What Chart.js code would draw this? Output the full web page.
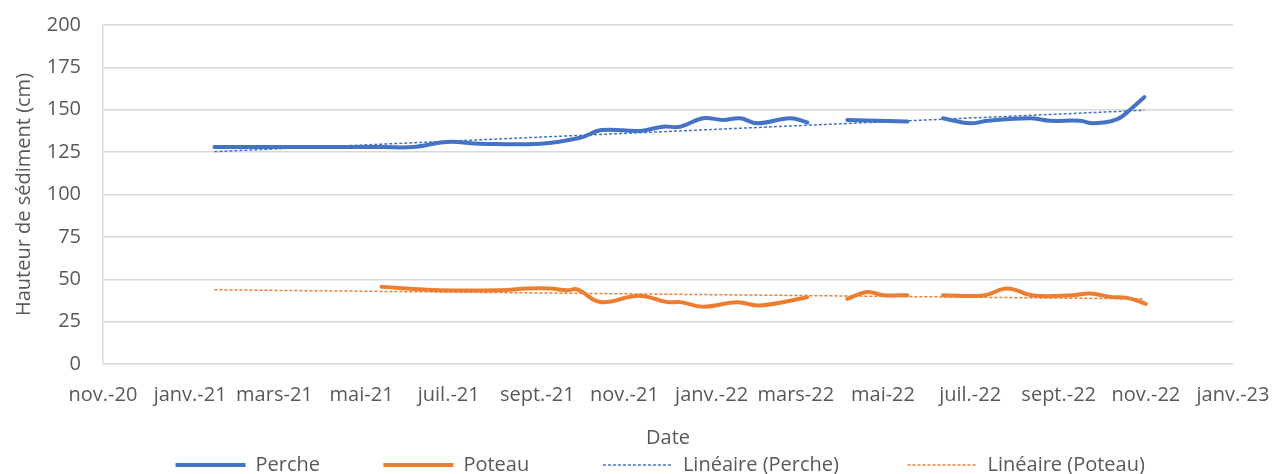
<!DOCTYPE html>
<html lang="fr">
<head>
<meta charset="UTF-8">
<title>Hauteur de sédiment</title>
<script src="https://cdn.jsdelivr.net/npm/chart.js"></script>
<style>
  html, body { margin: 0; padding: 0; background: #fff; }
  #wrap { width: 1274px; height: 474px; }
</style>
</head>
<body>
<div id="wrap"><canvas id="chart" width="1274" height="474"></canvas></div>
<script>
// x axis ticks (every 2 months)
const tickDates = ['2020-11-01','2021-01-01','2021-03-01','2021-05-01','2021-07-01','2021-09-01','2021-11-01',
  '2022-01-01','2022-03-01','2022-05-01','2022-07-01','2022-09-01','2022-11-01','2023-01-01'];
const tickLabels = ['nov.-20','janv.-21','mars-21','mai-21','juil.-21','sept.-21','nov.-21',
  'janv.-22','mars-22','mai-22','juil.-22','sept.-22','nov.-22','janv.-23'];

// Perche
const percheDates = ['2021-01-18','2021-02-15','2021-03-15','2021-04-15','2021-05-15','2021-06-06','2021-06-30',
  '2021-07-23','2021-09-03','2021-10-01','2021-10-16','2021-11-12','2021-11-28','2021-12-10','2021-12-26',
  '2022-01-09','2022-01-21','2022-02-02','2022-02-25','2022-03-09','2022-03-23','2022-04-06','2022-05-18',
  '2022-05-30','2022-06-12','2022-07-01','2022-07-13','2022-08-12','2022-08-26','2022-09-16','2022-09-25',
  '2022-10-12','2022-10-23','2022-10-31'];
const percheValues = [128, 128, 128, 128, 128, 128, 131,
  130, 130, 133.5, 138, 137.5, 140, 140, 145,
  144, 145, 142, 145, 142.5, null, 144, 143,
  null, 145, 142, 143.5, 145, 143.5, 143.5, 142,
  144.5, 151.5, 157.5];

// Poteau
const poteauDates = ['2021-05-15','2021-06-25','2021-08-06','2021-08-25','2021-09-10','2021-09-22','2021-09-29',
  '2021-10-15','2021-11-07','2021-11-15','2021-12-01','2021-12-10','2021-12-26','2022-01-19','2022-02-04',
  '2022-03-09','2022-03-23','2022-04-06','2022-04-20','2022-05-01','2022-05-18','2022-05-30','2022-06-12',
  '2022-07-10','2022-07-27','2022-08-14','2022-09-11','2022-09-23','2022-10-07','2022-10-19','2022-11-01'];
const poteauValues = [45.5, 43.5, 43.5, 44.5, 44.5, 43.5, 44,
  36.6, 40, 40, 36.5, 36.5, 33.8, 36.4, 34.5,
  39.4, null, 38.4, 42.5, 40.6, 40.6, null, 40.6,
  40.4, 44.5, 40.4, 40.6, 41.6, 39.6, 39, 35.5];

// linear trend lines (end points)
const trendDates = ['2021-01-18','2022-10-31'];
const trendPerche = [125.3, 149.7];
const trendPoteau = [43.8, 38.4];

const DAY = 86400000;
const origin = Date.UTC(2020, 10, 1);
function dayOf(s) {
  const p = s.split('-').map(Number);
  return (Date.UTC(p[0], p[1] - 1, p[2]) - origin) / DAY;
}
function pts(dates, vals) {
  return dates.map((d, i) => ({ x: dayOf(d), y: vals[i] }));
}

const BLUE = '#4472C4';
const ORANGE = '#ED7D31';

Chart.defaults.font.family = "'Open Sans', sans-serif";
Chart.defaults.font.size = 20;
Chart.defaults.color = '#595959';

// extra spacing after legend text (Excel spreads the entries out)
const legendGap = [12, 14, 13, 3];

// no automatic label overhang padding, layout.padding decides the plot box
function noPad(scale) {
  scale.paddingTop = 0;
  scale.paddingBottom = 0;
  scale.paddingLeft = 0;
  scale.paddingRight = 0;
}

new Chart(document.getElementById('chart'), {
  type: 'line',
  data: {
    datasets: [
      { label: 'Perche', data: pts(percheDates, percheValues), borderColor: BLUE, backgroundColor: BLUE,
        borderWidth: 4, tension: 0.4, pointRadius: 0, spanGaps: false, borderCapStyle: 'round' },
      { label: 'Poteau', data: pts(poteauDates, poteauValues), borderColor: ORANGE, backgroundColor: ORANGE,
        borderWidth: 4, tension: 0.4, pointRadius: 0, spanGaps: false, borderCapStyle: 'round' },
      { label: 'Linéaire (Perche)', data: pts(trendDates, trendPerche), borderColor: BLUE, backgroundColor: BLUE,
        borderWidth: 1.5, borderDash: [3, 2], pointRadius: 0 },
      { label: 'Linéaire (Poteau)', data: pts(trendDates, trendPoteau), borderColor: ORANGE, backgroundColor: ORANGE,
        borderWidth: 1.5, borderDash: [3, 2], pointRadius: 0 }
    ]
  },
  options: {
    responsive: false,
    animation: false,
    layout: { padding: { top: 25, right: 41, left: 0, bottom: -11 } },
    plugins: {
      tooltip: { enabled: false },
      legend: {
        position: 'bottom',
        fullSize: false,
        labels: {
          usePointStyle: true,
          pointStyle: 'line',
          pointStyleWidth: 70,
          padding: 1,
          font: { size: 20, lineHeight: 1 },
          generateLabels(chart) {
            const items = Chart.defaults.plugins.legend.labels.generateLabels(chart);
            items.forEach((it, i) => {
              const ds = chart.data.datasets[it.datasetIndex];
              it.text = it.text + '\u00a0'.repeat(legendGap[i]);
              it.lineWidth = ds.borderWidth;
              it.lineDash = ds.borderDash || [];
              it.strokeStyle = ds.borderColor;
            });
            return items;
          }
        }
      }
    },
    scales: {
      x: {
        type: 'linear',
        min: 0,
        max: dayOf('2023-01-01'),
        grid: { display: false },
        border: { display: false },
        afterBuildTicks(scale) {
          scale.ticks = tickDates.map(d => ({ value: dayOf(d) }));
        },
        afterFit(scale) { scale.height = 90; noPad(scale); },
        ticks: {
          autoSkip: false,
          maxRotation: 0,
          padding: 11,
          callback: (v, i) => tickLabels[i]
        },
        title: { display: true, text: 'Date', font: { size: 20 }, padding: { top: 0, bottom: 4 } }
      },
      y: {
        min: 0,
        max: 200,
        grid: { color: '#d9d9d9', lineWidth: 1.5, drawTicks: false },
        border: { display: true, color: '#d9d9d9', width: 1.5 },
        afterFit(scale) { scale.width = 103; noPad(scale); },
        ticks: { stepSize: 25, padding: 22 },
        title: { display: true, text: 'Hauteur de sédiment (cm)', font: { size: 20 }, padding: { top: 12, bottom: 0 } }
      }
    }
  }
});
</script>
</body>
</html>
